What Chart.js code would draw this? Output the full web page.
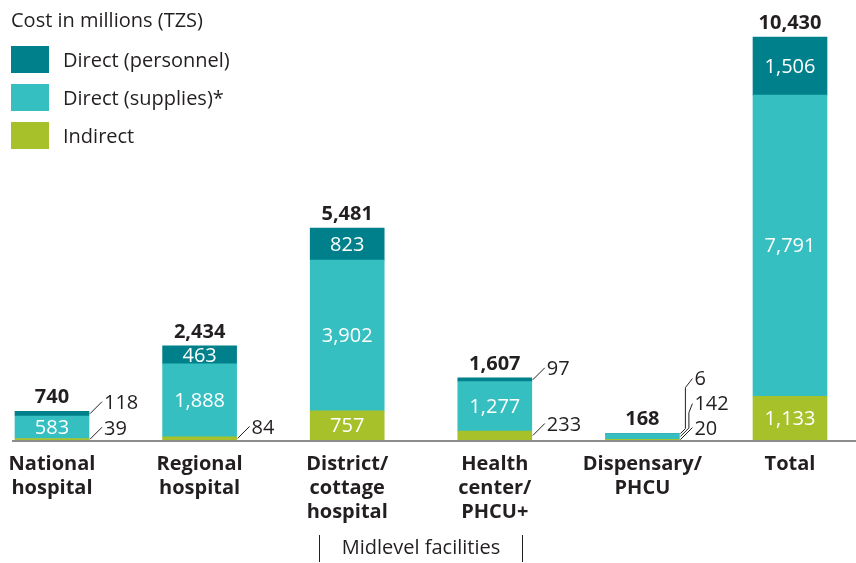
<!DOCTYPE html>
<html>
<head>
<meta charset="utf-8">
<script src="https://cdn.jsdelivr.net/npm/chart.js@4.4.0/dist/chart.umd.min.js"></script>
<style>
html, body { margin: 0; padding: 0; background: #fff; }
#wrap { position: relative; width: 856px; height: 563px; }
#legend { position: absolute; left: 11px; top: 5px; font-family: 'Open Sans', sans-serif; font-size: 20px; color: #231f20; }
#legend .title { height: 30px; line-height: 30px; }
#legend .item { display: flex; align-items: center; height: 27px; margin-top: 11px; }
#legend .box { width: 38px; height: 27px; margin-right: 14px; }
</style>
</head>
<body>
<div id="wrap">
  <canvas id="costChart" width="856" height="563"></canvas>
  <div id="legend"></div>
</div>
<script>
// values in millions TZS
const categories = [['National', 'hospital'], ['Regional', 'hospital'], ['District/', 'cottage', 'hospital'], ['Health', 'center/', 'PHCU+'], ['Dispensary/', 'PHCU'], ['Total']];
const indirect = [39, 84, 757, 233, 20, 1133];
const supplies = [583, 1888, 3902, 1277, 142, 7791];
const personnel = [118, 463, 823, 97, 6, 1506];
const totals = [740, 2434, 5481, 1607, 168, 10430];
const seriesNames = ['Direct (personnel)', 'Direct (supplies)*', 'Indirect'];
const legendTitle = 'Cost in millions (TZS)';
const groupLabel = 'Midlevel facilities';
const groupMembers = [2, 3];

const colors = { personnel: '#00808a', supplies: '#36bfc1', indirect: '#a6c12a' };
const font = "'Open Sans', sans-serif";
const ink = '#231f20';

// html legend, top to bottom
const legend = document.getElementById('legend');
legend.innerHTML = '<div class="title">' + legendTitle + '</div>';
[colors.personnel, colors.supplies, colors.indirect].forEach(function (c, i) {
    legend.innerHTML += '<div class="item"><span class="box" style="background:' + c + '"></span>' + seriesNames[i] + '</div>';
});

const fmt = v => v.toLocaleString('en-US');

const barLabels = {
    id: 'barLabels',
    afterDatasetsDraw(chart) {
        const ctx = chart.ctx;
        const metas = [0, 1, 2].map(d => chart.getDatasetMeta(d));
        ctx.save();
        ctx.font = '20px ' + font;
        for (let i = 0; i < categories.length; i++) {
            const outside = [];
            let top = Infinity, right = 0, cx = 0;
            metas.forEach((m, d) => {
                const bar = m.data[i];
                const v = chart.data.datasets[d].data[i];
                const h = bar.base - bar.y;
                top = Math.min(top, bar.y);
                right = bar.x + bar.width / 2;
                cx = bar.x;
                if (h >= 15) {
                    ctx.fillStyle = '#fff';
                    ctx.textAlign = 'center';
                    ctx.textBaseline = 'middle';
                    ctx.fillText(fmt(v), bar.x, (bar.y + bar.base) / 2 + 1);
                } else {
                    outside.push({ v: v, mid: (bar.y + bar.base) / 2 });
                }
            });
            // small values go to the right with a leader line
            let prev = Infinity;
            outside.forEach((o, k) => {
                let ly = Math.min(o.mid - 11, prev - 25);
                const lifted = ly < o.mid - 12;
                prev = ly;
                ctx.strokeStyle = ink;
                ctx.lineWidth = 1;
                ctx.beginPath();
                ctx.moveTo(right + 1, o.mid);
                if (lifted) {
                    const xv = right + 13 - 3.5 * k;
                    ctx.lineTo(xv, o.mid - (xv - right - 1));
                    ctx.lineTo(xv, ly + 9);
                    ctx.lineTo(right + 13, ly);
                } else {
                    ctx.lineTo(right + 13, o.mid - 12);
                }
                ctx.stroke();
                ctx.fillStyle = ink;
                ctx.textAlign = 'left';
                ctx.textBaseline = 'middle';
                ctx.fillText(fmt(o.v), right + 15, ly + 1);
            });
            ctx.font = 'bold 20px ' + font;
            ctx.fillStyle = ink;
            ctx.textAlign = 'center';
            ctx.textBaseline = 'middle';
            ctx.fillText(fmt(totals[i]), cx, top - 14);
            ctx.font = '20px ' + font;
        }
        ctx.restore();
    },
    afterDraw(chart) {
        const ctx = chart.ctx;
        const x = chart.scales.x, y = chart.scales.y;
        const y0 = y.getPixelForValue(0);
        ctx.save();
        // baseline
        ctx.strokeStyle = '#8c8c8c';
        ctx.lineWidth = 2;
        ctx.beginPath();
        ctx.moveTo(12, y0 + 1);
        ctx.lineTo(856, y0 + 1);
        ctx.stroke();
        // bracket for midlevel facilities
        const mid = (x.getPixelForValue(groupMembers[0]) + x.getPixelForValue(groupMembers[1])) / 2;
        ctx.strokeStyle = ink;
        ctx.lineWidth = 1;
        ctx.beginPath();
        ctx.moveTo(mid - 101.5, 535);
        ctx.lineTo(mid - 101.5, 562);
        ctx.moveTo(mid + 101.5, 535);
        ctx.lineTo(mid + 101.5, 562);
        ctx.stroke();
        ctx.fillStyle = ink;
        ctx.font = '20px ' + font;
        ctx.textAlign = 'center';
        ctx.textBaseline = 'middle';
        ctx.fillText(groupLabel, mid, 548);
        ctx.restore();
    }
};

const costCtx = document.getElementById('costChart').getContext('2d');
new Chart(costCtx, {
    type: 'bar',
    data: {
        labels: categories,
        datasets: [
            { label: seriesNames[2], data: indirect, backgroundColor: colors.indirect, clip: false },
            { label: seriesNames[1], data: supplies, backgroundColor: colors.supplies, clip: false },
            { label: seriesNames[0], data: personnel, backgroundColor: colors.personnel, clip: false }
        ]
    },
    options: {
        responsive: false,
        animation: false,
        barThickness: 74,
        layout: { padding: { left: 52, right: 66, top: 37, bottom: 35 } },
        plugins: {
            legend: { display: false },
            tooltip: { enabled: false }
        },
        scales: {
            x: {
                stacked: true,
                offset: false,
                grid: { display: false },
                border: { display: false },
                ticks: {
                    color: ink,
                    font: { family: font, size: 20, weight: 'bold', lineHeight: 1.2 },
                    padding: 4,
                    autoSkip: false,
                    maxRotation: 0
                }
            },
            y: {
                stacked: true,
                display: false,
                min: 0,
                max: 10430
            }
        }
    },
    plugins: [barLabels]
});
</script>
</body>
</html>
